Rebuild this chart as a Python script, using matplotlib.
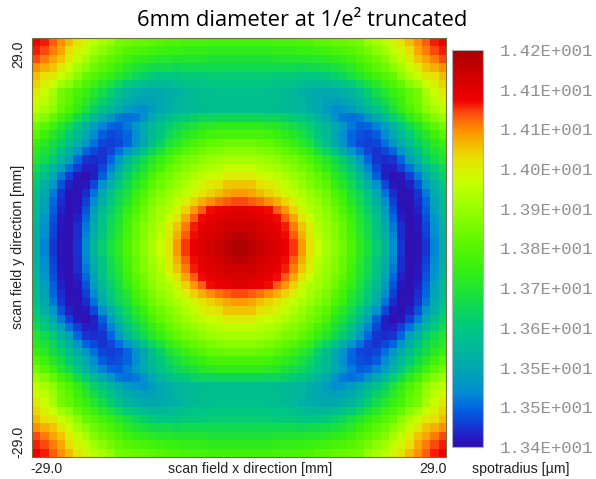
import numpy as np
import matplotlib
matplotlib.use("Agg")
import matplotlib.pyplot as plt
from matplotlib.colors import LinearSegmentedColormap

# top-left quadrant of the map, read as % of the colour scale
# the other three quadrants are mirrored from it
quadrant = [
    [88,86,83,80,76,72,69,65,62,59,55,54,53,52,51,50,49,49,48,48,48,47,47,47,47],
    [86,84,81,78,73,69,66,61,58,55,52,50,49,48,47,46,45,45,44,44,44,43,43,43,43],
    [84,81,78,75,70,66,62,57,54,51,49,46,44,43,42,41,41,40,40,40,40,39,39,39,39],
    [80,77,75,71,67,62,58,54,51,48,45,42,40,38,37,36,36,35,36,36,36,36,36,36,36],
    [76,73,71,67,63,58,53,50,47,44,41,38,35,33,31,30,30,30,31,31,31,32,32,32,32],
    [74,70,67,61,58,53,49,46,42,38,34,31,29,27,26,26,26,27,28,29,29,30,30,30,30],
    [71,67,62,55,52,48,45,41,37,32,27,24,22,21,20,21,22,23,25,26,27,27,28,28,28],
    [68,65,60,54,51,46,42,37,33,28,24,21,19,18,19,20,22,24,25,26,27,27,27,27,27],
    [65,62,58,53,49,44,39,33,28,24,20,17,15,14,17,20,22,24,25,26,26,27,27,27,27],
    [60,57,52,47,43,37,32,26,21,16,12,11,12,15,20,24,27,30,31,33,34,34,35,35,35],
    [55,51,46,41,36,30,24,18,13,10,9,12,16,20,25,28,32,35,37,39,41,42,43,43,43],
    [50,46,41,37,31,26,20,14,9,7,8,10,14,20,26,30,35,38,41,43,45,47,48,48,48],
    [45,42,37,33,27,22,16,11,7,6,7,10,15,21,27,33,39,42,45,48,50,52,53,54,54],
    [42,39,34,28,22,16,10,7,5,7,11,16,22,28,34,39,44,47,50,52,54,56,57,58,58],
    [40,36,31,24,18,10,5,4,5,10,17,25,31,36,41,45,49,52,55,56,58,60,61,62,62],
    [36,31,25,18,11,6,3,3,7,13,21,29,34,39,44,48,52,55,57,59,61,63,64,66,66],
    [33,27,20,12,6,2,0,3,9,18,26,33,38,42,48,52,55,58,60,63,65,67,68,70,70],
    [30,23,16,8,3,1,2,7,15,23,30,36,41,45,51,54,57,60,63,66,69,71,73,75,75],
    [27,20,12,5,1,1,4,11,21,29,35,39,45,49,54,57,60,63,66,69,72,74,76,78,79],
    [26,19,10,4,0,1,6,14,23,31,36,41,47,51,56,59,62,66,70,74,77,80,82,83,84],
    [26,18,9,3,0,2,8,17,26,33,38,44,49,54,58,61,64,69,74,79,83,87,88,89,90],
    [25,16,8,2,0,3,10,19,28,35,40,46,51,55,59,62,67,72,78,83,87,89,90,92,92],
    [23,15,7,2,0,4,12,21,29,36,41,47,53,57,60,64,70,75,81,86,89,91,92,94,94],
    [22,14,6,1,0,4,13,22,30,37,42,48,53,57,61,65,71,77,83,87,90,92,93,95,97],
    [22,13,5,1,0,5,14,24,32,38,43,49,54,58,62,67,72,79,85,89,91,93,95,97,99],
]

scale_min = 13.40
scale_max = 14.20
field_limit = 29.0

bar_labels = ["1.34E+001", "1.35E+001", "1.35E+001", "1.36E+001", "1.37E+001", "1.38E+001",
              "1.39E+001", "1.40E+001", "1.41E+001", "1.41E+001", "1.42E+001"]

cmap_stops = [0, .02, .06, .10, .14, .20, .30, .38, .45, .52, .60, .67, .73, .80, .84, .875, .94, 1]
cmap_colors = ["#3010b0", "#2818c0", "#1040d8", "#0068e0", "#0090d0", "#00a8b0", "#00c880", "#18e040",
               "#38f010", "#60f800", "#98ff00", "#c8ff00", "#e8e000", "#ff9000", "#ff5010", "#f00000",
               "#d00000", "#a80000"]

W, H = 596, 479


def axes_px(x0, y0, x1, y1):
    # pixel box (y from the top) to figure fractions
    return [x0 / W, 1 - y1 / H, (x1 - x0) / W, (y1 - y0) / H]


q = np.array(quadrant, dtype=float)
top = np.hstack([q, q[:, ::-1]])
levels = np.vstack([top, top[::-1]])
spot = scale_min + levels / 100 * (scale_max - scale_min)

cmap = LinearSegmentedColormap.from_list("spot", list(zip(cmap_stops, cmap_colors)))

fig = plt.figure(figsize=(W / 100, H / 100), dpi=100)

ax = fig.add_axes(axes_px(32, 38, 446, 457))
mesh = ax.imshow(spot, cmap=cmap, vmin=scale_min, vmax=scale_max, aspect="auto",
                 interpolation="nearest",
                 extent=[-field_limit, field_limit, -field_limit, field_limit])
ax.set_xticks([])
ax.set_yticks([])
for s in ax.spines.values():
    s.set_color("#707040")
    s.set_linewidth(0.8)

label_font = dict(family="Liberation Sans", fontsize=10.2, color="#222222")
fig.text(46 / W, 1 - 469 / H, "-29.0", ha="center", va="center", **label_font)
fig.text(433 / W, 1 - 469 / H, "29.0", ha="center", va="center", **label_font)
fig.text(250 / W, 1 - 469 / H, "scan field x direction [mm]", ha="center", va="center", **label_font)
fig.text(521 / W, 1 - 469 / H, "spotradius [µm]", ha="center", va="center", **label_font)
fig.text(18 / W, 1 - 54 / H, "29.0", ha="center", va="center", rotation=90, **label_font)
fig.text(18 / W, 1 - 442 / H, "-29.0", ha="center", va="center", rotation=90, **label_font)
fig.text(18 / W, 1 - 247 / H, "scan field y direction [mm]", ha="center", va="center", rotation=90, **label_font)

cax = fig.add_axes(axes_px(452, 50, 483, 447))
cb = fig.colorbar(mesh, cax=cax)
cb.outline.set_edgecolor("#b0b0b0")
cb.ax.tick_params(length=0, pad=12)
cb.set_ticks(np.linspace(scale_min, scale_max, len(bar_labels)))
cb.set_ticklabels(bar_labels, family="Liberation Mono", fontsize=12.5, color="#909090")

fig.text(302 / W, 1 - 21 / H, "6mm diameter at 1/e² truncated", ha="center", va="center",
         family="Open Sans", fontsize=15.8, color="black")

fig.savefig("out.png", dpi=100)
